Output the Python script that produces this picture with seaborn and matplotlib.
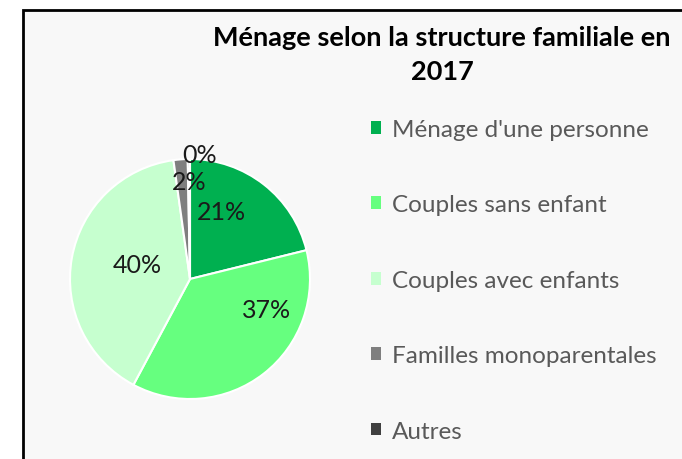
import matplotlib
matplotlib.use("Agg")
import matplotlib.pyplot as plt
import seaborn as sns
from matplotlib.patches import Rectangle, Patch

categories = ["Ménage d'une personne", "Couples sans enfant", "Couples avec enfants",
              "Familles monoparentales", "Autres"]
values = [21.1, 36.6, 39.9, 1.9, 0.3]
colors = ["#00B050", "#66FF7F", "#C6FFCF", "#7F7F7F", "#404040"]
title = "Ménage selon la structure familiale en\n2017"

# label placement (pie coordinates, radius = 1)
label_pos = [(0.26, 0.56), (0.64, -0.25), (-0.44, 0.12), (-0.01, 0.81), (0.08, 1.04)]

sns.set_theme(style="white")
plt.rcParams["font.family"] = ["Lato", "DejaVu Sans"]

W, H = 682, 460
fig = plt.figure(figsize=(W / 100, H / 100), dpi=100)
fig.patch.set_facecolor("white")

# chart frame
fig.patches.append(Rectangle((23 / W, -0.1), 1.2, (H - 11) / H + 0.1,
                             transform=fig.transFigure, facecolor="#F8F8F8",
                             edgecolor="black", linewidth=2, zorder=-5))

cx, cy, r = 190, 280, 120
ax = fig.add_axes([(cx - r) / W, (H - cy - r) / H, 2 * r / W, 2 * r / H])
ax.set_zorder(2)
ax.patch.set_visible(False)
wedges, _ = ax.pie(values, colors=colors, startangle=90, counterclock=False,
                   radius=1, wedgeprops=dict(edgecolor="white", linewidth=1.5))
ax.set_xlim(-1, 1)
ax.set_ylim(-1, 1)
ax.set_aspect("equal")
ax.axis("off")

for v, (x, y) in zip(values, label_pos):
    ax.text(x, y, f"{round(v):d}%", ha="center", va="center", fontsize=18,
            color="#1a1a1a", clip_on=False)

fig.text(442 / W, 1 - 55 / H, title, ha="center", va="center", fontsize=19.5,
         fontweight="bold", color="black", linespacing=1.45)

handles = [Patch(facecolor=c, edgecolor="none") for c in colors]
leg = fig.legend(handles, categories, loc="upper left",
                 bbox_to_anchor=(371 / W, 1 - 120 / H), frameon=False,
                 fontsize=17.5, handlelength=0.42, handleheight=0.42,
                 handletextpad=0.45, labelspacing=2.24, borderaxespad=0,
                 borderpad=0)
for t in leg.get_texts():
    t.set_color("#595959")

fig.savefig("out.png", dpi=100, facecolor=fig.get_facecolor())
